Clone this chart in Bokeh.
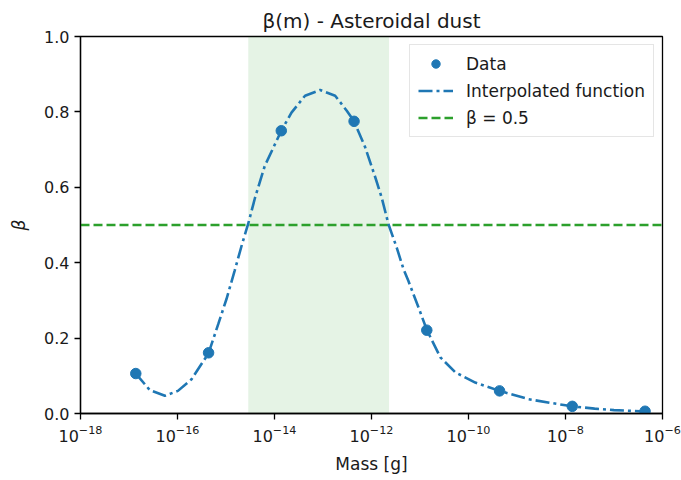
from bokeh.plotting import figure
from bokeh.models import (Range1d, FixedTicker, LogTickFormatter, PrintfTickFormatter,
                          BoxAnnotation, Legend, LegendItem)
from bokeh.embed import file_html
from bokeh.resources import INLINE

# ---- data ----
mass_data = [1.38e-17, 4.37e-16, 1.38e-14, 4.37e-13, 1.38e-11, 4.37e-10, 1.38e-8, 4.37e-7]
beta_data = [0.106, 0.161, 0.750, 0.775, 0.221, 0.060, 0.019, 0.006]

mass_curve = [1.38e-17, 2.69e-17, 5.50e-17, 1.02e-16, 1.95e-16, 4.37e-16, 6.92e-16, 1.02e-15,
              1.51e-15, 2.14e-15, 2.88e-15, 3.98e-15, 6.31e-15, 1.38e-14, 2.24e-14, 4.27e-14,
              8.71e-14, 1.78e-13, 3.09e-13, 4.37e-13, 7.41e-13, 1.20e-12, 1.62e-12, 2.24e-12,
              3.31e-12, 4.57e-12, 5.75e-12, 9.33e-12, 1.38e-11, 2.63e-11, 5.37e-11, 1.38e-10,
              4.37e-10, 1.74e-9, 5.01e-9, 1.38e-8, 3.98e-8, 1.0e-7, 2.24e-7, 4.37e-7]
beta_curve = [0.106, 0.062, 0.047, 0.060, 0.091, 0.160, 0.237, 0.303,
              0.379, 0.449, 0.504, 0.573, 0.657, 0.750, 0.798, 0.843,
              0.858, 0.843, 0.803, 0.775, 0.706, 0.626, 0.573, 0.502,
              0.440, 0.383, 0.352, 0.281, 0.222, 0.149, 0.109, 0.082,
              0.060, 0.038, 0.028, 0.019, 0.013, 0.009, 0.007, 0.005]

beta_threshold = 0.5
band_mass = [2.88e-15, 2.30e-12]          # region where beta > 0.5
x_limits = [1e-18, 1e-6]
y_limits = [0.0, 1.0]

x_tick_exponents = [-18, -16, -14, -12, -10, -8, -6]
y_ticks = [0.0, 0.2, 0.4, 0.6, 0.8, 1.0]

BLUE = "#1f77b4"
GREEN = "#2ca02c"
FONT = "DejaVu Sans"
TXT = "#1a1a1a"

p = figure(width=681, height=480, x_axis_type="log",
           x_range=Range1d(*x_limits), y_range=Range1d(*y_limits),
           output_backend="svg", toolbar_location=None,
           title="β(m) - Asteroidal dust")
p.min_border_left = 80
p.min_border_right = 19
p.min_border_top = 36
p.min_border_bottom = 67
p.background_fill_color = "white"
p.border_fill_color = "white"
p.outline_line_color = "black"
p.outline_line_width = 1.3
p.xgrid.visible = False
p.ygrid.visible = False

p.title.align = "center"
p.title.vertical_align = "top"
p.title.text_font = FONT
p.title.text_font_size = "20px"
p.title.text_font_style = "normal"
p.title.text_color = TXT
p.title.standoff = 4

band = BoxAnnotation(left=band_mass[0], right=band_mass[1], fill_color=GREEN,
                     fill_alpha=0.12, line_color=None, level="underlay")
p.add_layout(band)

hline = p.line(x=x_limits, y=[beta_threshold, beta_threshold], line_color=GREEN,
               line_width=2.6, line_dash="9 4")
curve = p.line(x=mass_curve, y=beta_curve, line_color=BLUE, line_width=2.6,
               line_dash="14 4 3 4")
pts = p.scatter(x=mass_data, y=beta_data, size=10.5, fill_color=BLUE, line_color=BLUE)

# axes
p.xaxis.ticker = FixedTicker(ticks=[10.0 ** e for e in x_tick_exponents], minor_ticks=[])
p.xaxis.formatter = LogTickFormatter()
p.yaxis.ticker = FixedTicker(ticks=y_ticks, minor_ticks=[])
p.yaxis.formatter = PrintfTickFormatter(format="%.1f")

for ax in (p.xaxis, p.yaxis):
    ax.axis_line_color = "black"
    ax.axis_line_width = 1.3
    ax.major_tick_line_color = "black"
    ax.major_tick_line_width = 1.3
    ax.major_tick_out = 6
    ax.major_tick_in = 0
    ax.minor_tick_line_color = None
    ax.major_label_text_font = FONT
    ax.major_label_text_font_size = "16px"
    ax.major_label_text_color = TXT
    ax.axis_label_text_font = FONT
    ax.axis_label_text_font_size = "17px"
    ax.axis_label_text_font_style = "normal"
    ax.axis_label_text_color = TXT
    ax.major_label_standoff = 5

p.xaxis.axis_label = "Mass [g]"
p.yaxis.axis_label = "β"
p.yaxis.axis_label_text_font_style = "italic"
p.xaxis.axis_label_standoff = 9
p.yaxis.axis_label_standoff = 12

legend = Legend(items=[
    LegendItem(label="Data", renderers=[pts]),
    LegendItem(label="Interpolated function", renderers=[curve]),
    LegendItem(label="β = 0.5", renderers=[hline]),
], location="top_right")
legend.label_text_font = FONT
legend.label_text_font_size = "17px"
legend.label_text_color = TXT
legend.border_line_color = "#cccccc"
legend.border_line_width = 1
legend.background_fill_color = "white"
legend.background_fill_alpha = 0.8
legend.glyph_width = 35
legend.glyph_height = 21
legend.label_height = 21
legend.label_standoff = 13
legend.spacing = 6
legend.padding = 8
legend.margin = 8
p.add_layout(legend)

open("out.html", "w").write(file_html(p, INLINE))
